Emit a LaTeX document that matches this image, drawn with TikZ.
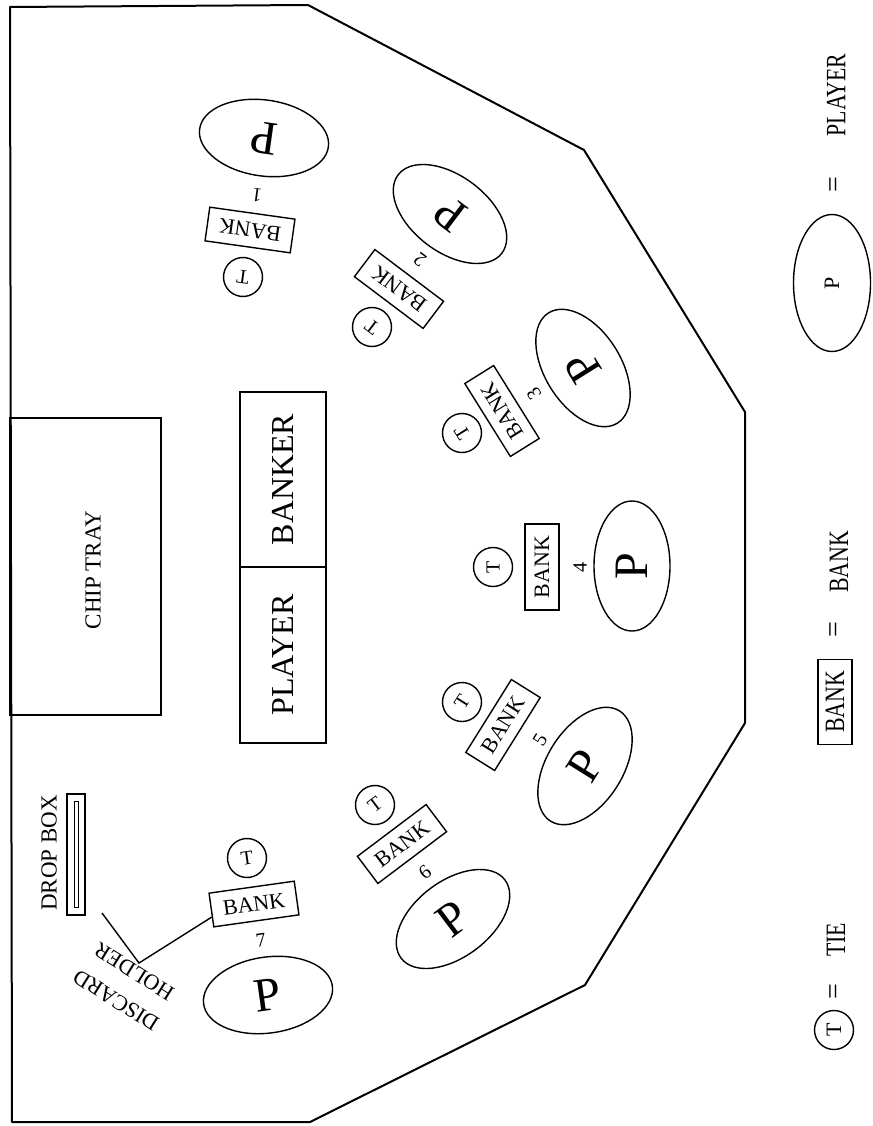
\documentclass[tikz,border=0pt]{standalone}
\usepackage{fontspec}
\setmainfont{Liberation Serif}
\usetikzlibrary{shapes.geometric,positioning,calc}

\newcommand{\keyfont}{\fontsize{28}{30}\selectfont}
\newcommand{\keytxt}[1]{\scalebox{0.78}[1]{#1}}

\begin{document}
\begin{tikzpicture}[
    x=1pt, y=-1pt,
    every node/.style={inner sep=0pt},
    seat/.style={
        draw,
        ellipse,
        line width=1.4pt,
        minimum width=130,
        minimum height=76,
        font=\fontsize{48}{50}\selectfont
    },
    betbox/.style={
        draw,
        rectangle,
        line width=1.4pt,
        minimum width=86,
        minimum height=34,
        font=\fontsize{22}{24}\selectfont
    },
    tiemark/.style={
        draw,
        circle,
        line width=1.4pt,
        minimum size=39,
        font=\fontsize{20}{22}\selectfont
    },
    seatnum/.style={font=\fontsize{20}{22}\selectfont},
    boardtext/.style={font=\fontsize{23}{25}\selectfont},
    keytext/.style={font=\keyfont, rotate=90}
]

\useasboundingbox (0,0) rectangle (872,1126);

% ==========================================================
% TABLE OUTLINE
% ==========================================================
\draw[line width=2pt, line join=round]
    (10,7) -- (308,5) -- (584,150) -- (745,412) -- (745,723)
    -- (585,985) -- (310,1122) -- (12,1122) -- cycle;

% ==========================================================
% DEALER AREA
% ==========================================================
\node[draw, line width=1.4pt, minimum width=151, minimum height=297] (tray) at (85.5,566.5) {};
\node[boardtext, rotate=90] (traytext) at (93,570) {CHIP TRAY};

\node[draw, line width=1.4pt, rotate=90, minimum width=175, minimum height=86,
      font=\fontsize{32}{34}\selectfont] (banker) at (283,479.5) {BANKER};
\node[draw, line width=1.4pt, rotate=90, minimum width=176, minimum height=86,
      font=\fontsize{32}{34}\selectfont] (player) at (283,655) {PLAYER};

\node[draw, line width=1.2pt, minimum width=18, minimum height=121] (dropbox) at (76,854.5) {};
\node[draw, line width=1pt, minimum width=4, minimum height=106] (dropslot) at (dropbox.center) {};
\node[boardtext, rotate=90] (droptext) at (49,853) {DROP BOX};

% ==========================================================
% SEATS
% ==========================================================
% Seat 1
\node[seat, rotate=172] (p1) at (264,138) {P};
\node[seatnum, rotate=172] (n1) at (257,195) {1};
\node[betbox, rotate=172] (bank1) at (250,230) {BANK};
\node[tiemark, rotate=172] (tie1) at (243,277) {T};

% Seat 2
\node[seat, rotate=143] (p2) at (450,214) {P};
\node[seatnum, rotate=143] (n2) at (420,260) {2};
\node[betbox, rotate=143] (bank2) at (399,289) {BANK};
\node[tiemark, rotate=143] (tie2) at (372,327) {T};

% Seat 3
\node[seat, rotate=122] (p3) at (583,368) {P};
\node[seatnum, rotate=122] (n3) at (534,394) {3};
\node[betbox, rotate=122] (bank3) at (502,411) {BANK};
\node[tiemark, rotate=122] (tie3) at (462,433) {T};

% Seat 4
\node[seat, rotate=90] (p4) at (632,566) {P};
\node[seatnum, rotate=90] (n4) at (580,567) {4};
\node[betbox, rotate=90] (bank4) at (542,567) {BANK};
\node[tiemark, rotate=90] (tie4) at (493,567) {T};

% Seat 5
\node[seat, rotate=58] (p5) at (585,766) {P};
\node[seatnum, rotate=58] (n5) at (540,740) {5};
\node[betbox, rotate=58] (bank5) at (503,725) {BANK};
\node[tiemark, rotate=58] (tie5) at (462,702) {T};

% Seat 6
\node[seat, rotate=37] (p6) at (453,919) {P};
\node[seatnum, rotate=37] (n6) at (425,872) {6};
\node[betbox, rotate=37] (bank6) at (402,844) {BANK};
\node[tiemark, rotate=37] (tie6) at (375,805) {T};

% Seat 7
\node[seat, rotate=8] (p7) at (268,995) {P};
\node[seatnum, rotate=8] (n7) at (261,940) {7};
\node[betbox, rotate=8] (bank7) at (254,904) {BANK};
\node[tiemark, rotate=8] (tie7) at (247,858) {T};

% ==========================================================
% DISCARD HOLDER
% ==========================================================
\coordinate (holdend) at (102,913);
\coordinate (holdv) at (139,963);
\draw[line width=1.4pt] (holdend) -- (holdv) -- ($(bank7.west)!0.4!(bank7.south west)$);
\node[rotate=148, align=center, font=\fontsize{22}{34}\selectfont] (holdtext) at (125,986) {DISCARD\\HOLDER};

% ==========================================================
% KEY
% ==========================================================
\node[draw, ellipse, line width=1.4pt, rotate=90, minimum width=137, minimum height=77,
      font=\fontsize{22}{24}\selectfont] (playerkey) at (832,283) {P};
\node[keytext] (playereq) at (836,185) {=};
\node[keytext] (playerword) at (836,95) {\keytxt{PLAYER}};

\node[draw, line width=1.4pt, rotate=90, minimum width=85, minimum height=34,
      font=\keyfont] (bankkey) at (835,702) {\keytxt{BANK}};
\node[keytext] (bankeq) at (836,630) {=};
\node[keytext] (bankword) at (839,562) {\keytxt{BANK}};

\node[tiemark, rotate=90, font=\fontsize{22}{24}\selectfont] (tiekey) at (834,1030) {T};
\node[keytext] (tieeq) at (836,992) {=};
\node[keytext] (tieword) at (836,940) {\keytxt{TIE}};

\end{tikzpicture}
\end{document}
